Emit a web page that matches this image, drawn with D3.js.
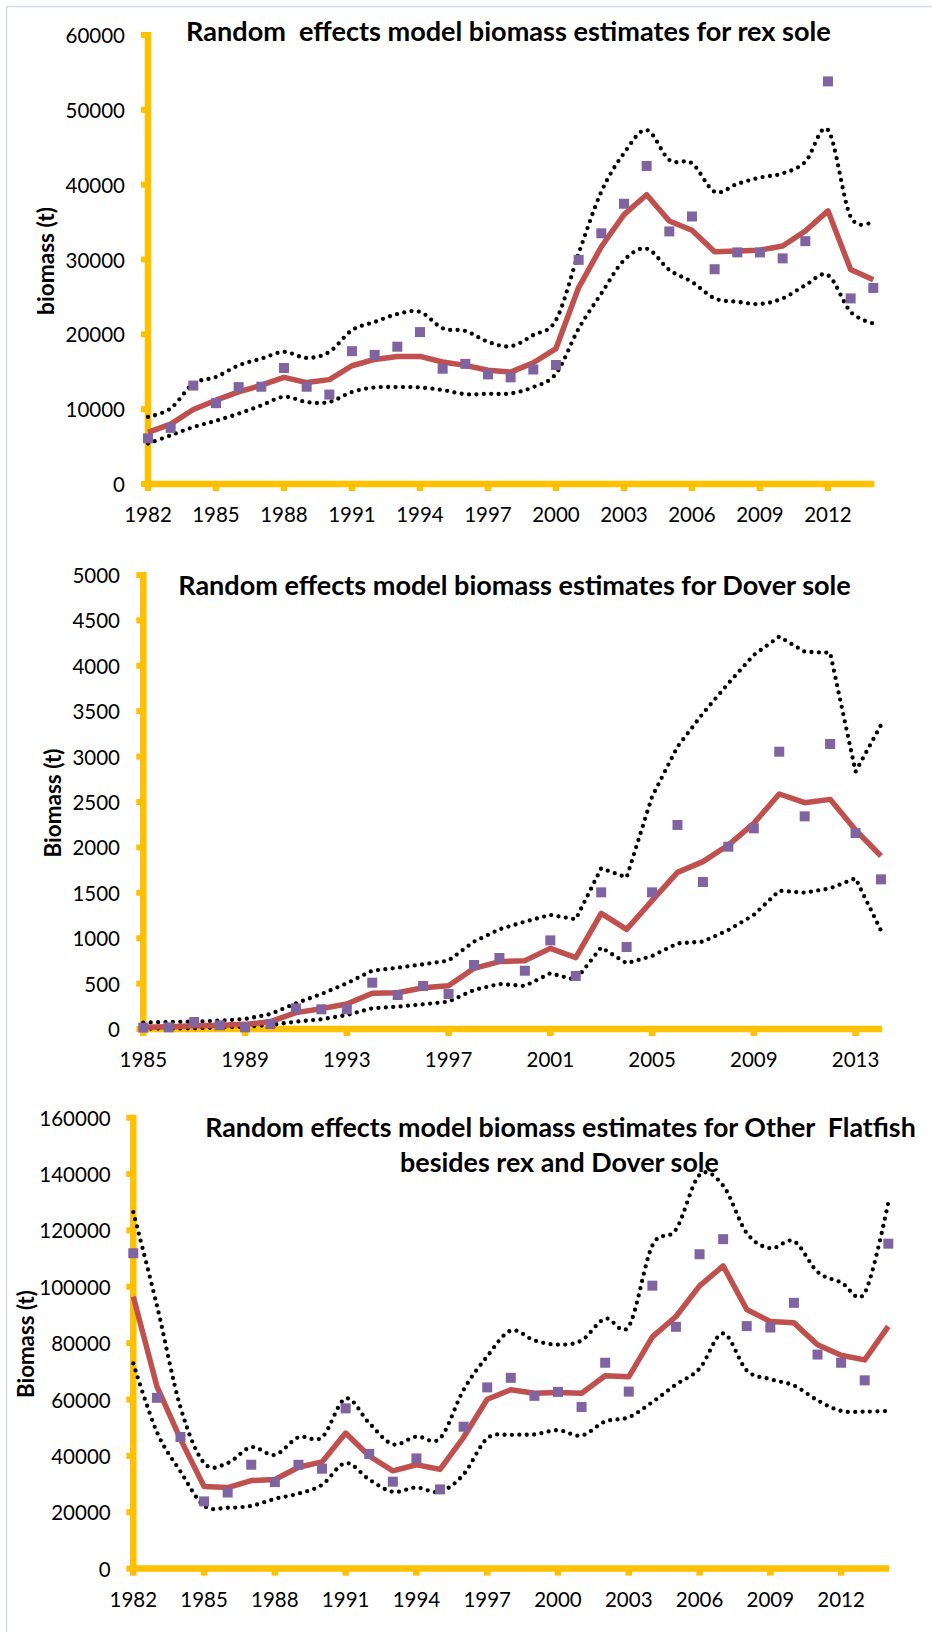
<!DOCTYPE html>
<html>
<head>
<meta charset="utf-8">
<script src="https://cdn.jsdelivr.net/npm/d3@7"></script>
<style>
  body { margin: 0; background: #fff; }
  svg text { font-family: Lato, "Open Sans", sans-serif; fill: #000; }
</style>
</head>
<body>
<div id="renderer"></div>
<script>
// ---- rex sole ----
const rexYears = [1982,1983,1984,1985,1986,1987,1988,1989,1990,1991,1992,1993,1994,1995,1996,1997,1998,1999,2000,2001,2002,2003,2004,2005,2006,2007,2008,2009,2010,2011,2012,2013,2014];
const rexObs = [6100,7500,13150,10800,12950,13000,15500,13000,11950,17750,17250,18350,20300,15400,16050,14650,14250,15300,15900,29950,33500,37450,42500,33750,35750,28700,30950,30950,30150,32450,53800,24800,26200];
const rexEst = [6900,8000,9950,11200,12300,13200,14250,13550,13950,15800,16650,17050,17050,16300,15850,15200,14950,16200,18100,26250,31700,36000,38650,35150,33900,31050,31150,31250,31800,33800,36500,28650,27300];
const rexHi = [8950,10100,13400,14300,15850,16750,17650,16850,17650,20550,21650,22700,23000,20800,20450,19000,18400,19900,21900,30800,39050,44200,47300,43300,42850,39050,40100,40950,41500,43050,47300,35700,35150];
const rexLo = [5400,6500,7600,8450,9400,10500,11650,10950,10950,12300,12900,12950,12900,12550,12000,12050,12100,12950,14750,20750,25450,29900,31450,28600,27000,24800,24350,24050,24800,26550,27900,23000,21450];
const rexXTicks = [1982,1985,1988,1991,1994,1997,2000,2003,2006,2009,2012];
const rexYTicks = [0,10000,20000,30000,40000,50000,60000];

// ---- Dover sole ----
const doverYears = [1985,1986,1987,1988,1989,1990,1991,1992,1993,1994,1995,1996,1997,1998,1999,2000,2001,2002,2003,2004,2005,2006,2007,2008,2009,2010,2011,2012,2013,2014];
const doverObs = [15,18,77,40,18,55,228,217,217,510,374,474,385,705,782,642,976,584,1505,903,1505,2247,1619,2008,2210,3054,2342,3139,2158,1648];
const doverEst = [18,26,37,40,51,81,180,224,275,393,400,455,477,668,742,753,888,786,1274,1098,1413,1725,1843,2026,2265,2588,2492,2529,2191,1905];
const doverHi = [70,77,81,92,110,165,283,385,503,642,675,712,753,962,1098,1182,1256,1208,1769,1670,2558,3109,3476,3807,4119,4321,4155,4144,2834,3348];
const doverLo = [5,5,7,18,26,44,81,106,154,228,246,272,301,430,496,474,613,540,899,723,804,943,962,1090,1256,1523,1501,1549,1659,1083];
const doverXTicks = [1985,1989,1993,1997,2001,2005,2009,2013];
const doverYTicks = [0,500,1000,1500,2000,2500,3000,3500,4000,4500,5000];

// ---- other flatfish ----
const otherYears = [1982,1983,1984,1985,1986,1987,1988,1989,1990,1991,1992,1993,1994,1995,1996,1997,1998,1999,2000,2001,2002,2003,2004,2005,2006,2007,2008,2009,2010,2011,2012,2013,2014];
const otherObs = [111900,60600,46700,23850,27000,36850,30700,36850,35450,56850,40700,30850,39100,28100,50350,64300,67700,61300,62700,57350,73050,62800,100400,85800,111550,116900,86050,85550,94300,75950,73050,66800,115300];
const otherEst = [96500,64700,45950,29100,28750,31250,31600,35950,37850,48100,39950,34700,36850,35200,46600,60100,63450,62200,62450,62200,68450,68050,82200,89450,100300,107400,91950,87700,87200,79450,75700,74050,85950];
const otherHi = [126500,93400,57200,37450,37450,43100,40350,46600,46600,60350,51600,44100,46850,46200,63450,75300,84450,80950,79450,80950,88700,85950,114650,120300,139650,135900,119050,113650,116150,105300,101550,97800,129900];
const otherLo = [72800,48450,34450,22250,21600,22250,24750,26600,29750,37450,31600,27250,28750,27250,33450,46200,47450,47600,49100,47200,52200,53700,59100,65300,70950,83450,70300,67200,64950,59700,55950,55700,55950];
const otherXTicks = [1982,1985,1988,1991,1994,1997,2000,2003,2006,2009,2012];
const otherYTicks = [0,20000,40000,60000,80000,100000,120000,140000,160000];

const W = 932, H = 1632;
const AXIS = "#FFC000", EST = "#C0504D", OBS = "#8064A2";

const svg = d3.select("#renderer").append("svg")
    .attr("width", W).attr("height", H);

// light frame on the left and top
svg.append("line").attr("x1", 6.5).attr("y1", 6.5).attr("x2", 6.5).attr("y2", H)
    .attr("stroke", "#D5DBE6").attr("stroke-width", 1.5);
svg.append("line").attr("x1", 6.5).attr("y1", 6.5).attr("x2", W).attr("y2", 6.5)
    .attr("stroke", "#D5DBE6").attr("stroke-width", 1.5);

// scale the font so the text takes the width seen in the picture
function fitWidth(sel, target) {
    const w = sel.node().getComputedTextLength();
    const fs = parseFloat(sel.attr("font-size"));
    sel.attr("font-size", fs * target / w);
}

function drawPanel(cfg) {
    const g = svg.append("g");
    const x = d3.scalePoint().domain(cfg.years).range([cfg.left, cfg.right]);
    const y = d3.scaleLinear().domain([0, cfg.yMax]).range([cfg.bottom, cfg.top]);

    // axes (thick orange, short stub ticks)
    g.append("line")
        .attr("x1", cfg.left).attr("x2", cfg.left)
        .attr("y1", y(cfg.yMax) - 3).attr("y2", cfg.bottom + 3)
        .attr("stroke", AXIS).attr("stroke-width", 6.5);
    g.append("line")
        .attr("x1", cfg.left - 3).attr("x2", cfg.right + 1)
        .attr("y1", cfg.bottom).attr("y2", cfg.bottom)
        .attr("stroke", AXIS).attr("stroke-width", 6.5);
    g.selectAll(".yt").data(cfg.yTicks).join("line")
        .attr("x1", cfg.left - 7).attr("x2", cfg.left)
        .attr("y1", d => y(d)).attr("y2", d => y(d))
        .attr("stroke", AXIS).attr("stroke-width", 6);
    g.selectAll(".xt").data(cfg.xTicks).join("line")
        .attr("x1", d => x(d)).attr("x2", d => x(d))
        .attr("y1", cfg.bottom).attr("y2", cfg.bottom + 7)
        .attr("stroke", AXIS).attr("stroke-width", 6.5);

    // tick labels
    g.selectAll(".yl").data(cfg.yTicks).join("text")
        .attr("x", cfg.yLabelRight).attr("y", d => y(d))
        .attr("text-anchor", "end").attr("dominant-baseline", "central")
        .attr("font-size", 20.5)
        .text(d => d);
    g.selectAll(".xl").data(cfg.xTicks).join("text")
        .attr("x", d => x(d)).attr("y", cfg.bottom + 38)
        .attr("text-anchor", "middle")
        .attr("font-size", 20.5)
        .text(d => d);

    // axis title
    const yt = g.append("text")
        .attr("transform", `translate(${cfg.yTitle.x},${cfg.yTitle.y}) rotate(-90)`)
        .attr("text-anchor", "middle").attr("dominant-baseline", "central")
        .attr("font-weight", "bold").attr("font-size", 20)
        .text(cfg.yTitle.text);
    fitWidth(yt, cfg.yTitle.len);

    // chart title
    cfg.titles.forEach(t => {
        const tt = g.append("text")
            .attr("x", t.x).attr("y", t.y)
            .attr("text-anchor", "middle")
            .attr("font-weight", "bold").attr("font-size", 24)
            .style("white-space", "pre")
            .text(t.text);
        fitWidth(tt, t.len);
    });

    const curve = cfg.smooth ? d3.curveCardinal.tension(0) : d3.curveLinear;
    const band = d3.line().curve(curve)
        .x((d, i) => x(cfg.years[i])).y(d => y(d));

    [cfg.hi, cfg.lo].forEach(s => {
        g.append("path").datum(s).attr("d", band)
            .attr("fill", "none").attr("stroke", "#000")
            .attr("stroke-width", 4.3)
            .attr("stroke-linecap", "round")
            .attr("stroke-dasharray", "0 7.4");
    });

    const estLine = d3.line().x((d, i) => x(cfg.years[i])).y(d => y(d));
    g.append("path").datum(cfg.est).attr("d", estLine)
        .attr("fill", "none").attr("stroke", EST)
        .attr("stroke-width", 5.5).attr("stroke-linejoin", "round");

    g.selectAll(".obs").data(cfg.obs).join("rect")
        .attr("x", (d, i) => x(cfg.years[i]) - 5)
        .attr("y", d => y(d) - 5)
        .attr("width", 10).attr("height", 10)
        .attr("fill", OBS);
}

drawPanel({
    years: rexYears, obs: rexObs, est: rexEst, hi: rexHi, lo: rexLo,
    xTicks: rexXTicks, yTicks: rexYTicks, yMax: 60000,
    left: 148, right: 873.3, top: 35, bottom: 484,
    yLabelRight: 125, smooth: true,
    yTitle: { text: "biomass (t)", x: 45, y: 261, len: 108 },
    titles: [{ text: "Random  effects model biomass estimates for rex sole", x: 508.4, y: 41, len: 645 }]
});

drawPanel({
    years: doverYears, obs: doverObs, est: doverEst, hi: doverHi, lo: doverLo,
    xTicks: doverXTicks, yTicks: doverYTicks, yMax: 5000,
    left: 143.3, right: 881, top: 575, bottom: 1029,
    yLabelRight: 120, smooth: false,
    yTitle: { text: "Biomass (t)", x: 52, y: 803, len: 109 },
    titles: [{ text: "Random effects model biomass estimates for Dover sole", x: 514.5, y: 594.5, len: 673 }]
});

drawPanel({
    years: otherYears, obs: otherObs, est: otherEst, hi: otherHi, lo: otherLo,
    xTicks: otherXTicks, yTicks: otherYTicks, yMax: 160000,
    left: 133.3, right: 888.3, top: 1117.7, bottom: 1568.6,
    yLabelRight: 110.7, smooth: true,
    yTitle: { text: "Biomass (t)", x: 25, y: 1344, len: 108 },
    titles: [
        { text: "Random effects model biomass estimates for Other  Flatfish", x: 560.5, y: 1137, len: 711 },
        { text: "besides rex and Dover sole", x: 559.5, y: 1172, len: 319 }
    ]
});
</script>
</body>
</html>
